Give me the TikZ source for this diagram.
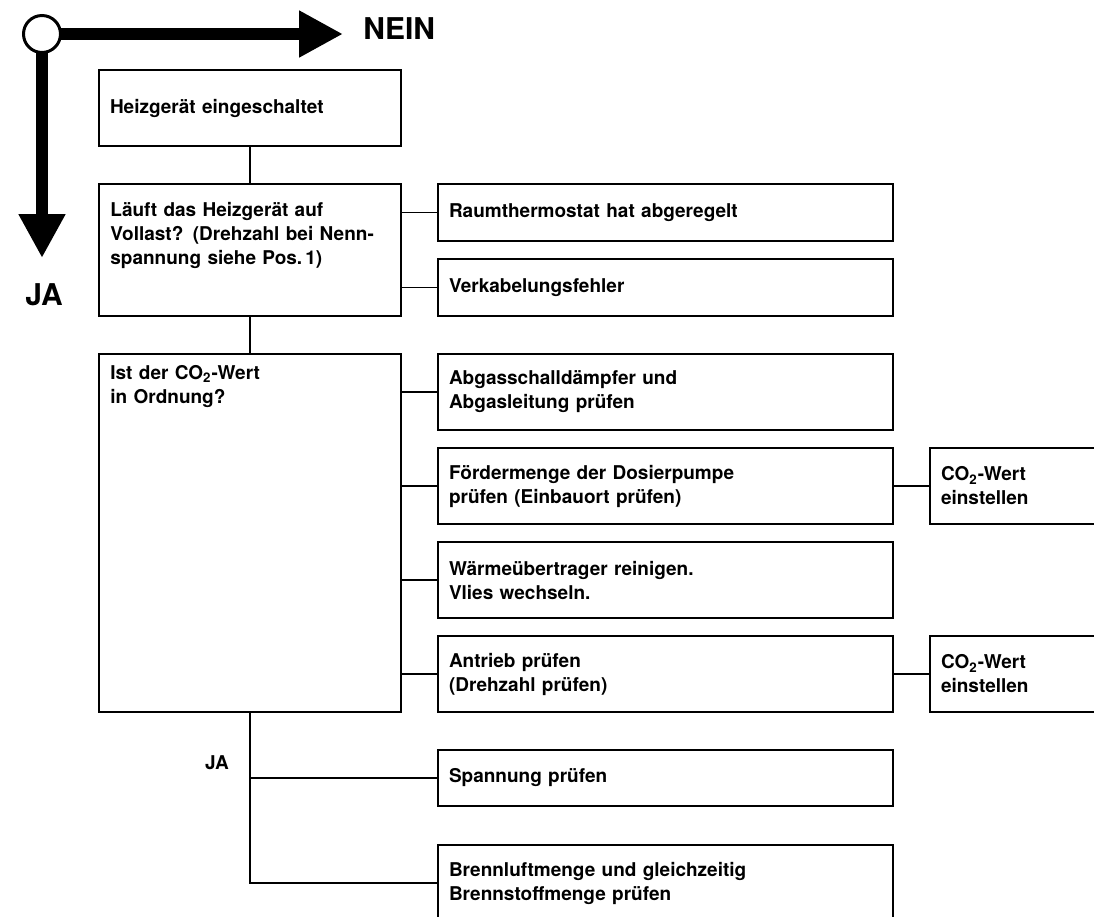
\documentclass[tikz,border=0pt]{standalone}
\usepackage{fontspec}
\setmainfont{TeX Gyre Heros}
\usepackage{tikz}
\usetikzlibrary{arrows.meta,positioning}

\begin{document}
\begin{tikzpicture}[
  x=0.5pt, y=-0.5pt,
  node distance=19pt and 18.5pt,
  font=\fontsize{9.5}{12}\selectfont\bfseries,
  block/.style={rectangle, draw, line width=1.2pt, outer sep=0pt, inner xsep=5.5pt, inner ysep=0pt, text width=140pt, minimum height=38pt, align=left},
  wide/.style={block, text width=216.5pt},
  small/.style={block, text width=79pt},
  toplabel/.style={anchor=north west, inner sep=0pt, text width=140pt, align=left, xshift=5.5pt},
  link/.style={line width=0.8pt},
  ring/.style={circle, draw, line width=1.5pt, fill=white, inner sep=0pt, outer sep=0pt, minimum size=18.5pt},
  bigarrow/.style={-{Triangle[length=22pt, width=22pt]}, line width=6pt},
  big/.style={font=\fontsize{15}{18}\selectfont\bfseries, inner sep=0pt}
]
\useasboundingbox (0,0) rectangle (1094,917);

\node[ring] (start) at (42,34) {};
\coordinate (neintip) at (343,34);
\coordinate (jatip) at (42,258);
\draw[bigarrow] (start.east) -- (neintip);
\draw[bigarrow] (start.south) -- (jatip);
\node[big, anchor=west] (nein) at (363,28.5) {NEIN};
\node[big] (ja) at (44,295) {JA};

\node[block, anchor=north west] (on) at (99,70) {Heizgerät eingeschaltet};
\node[block, below=of on, minimum height=66pt,
  label={[toplabel, yshift=-8.8pt]north west:{Läuft das Heizgerät auf\\ Vollast? (Drehzahl bei Nenn-\\ spannung siehe Pos.\,1)}}] (full) {};
\node[block, below=of full, minimum height=179pt,
  label={[toplabel, yshift=-5.4pt]north west:{Ist der CO\textsubscript{2}-Wert\\ in Ordnung?}}] (co) {};

\node[wide, minimum height=28.5pt, right=18.5pt of full.north east, anchor=north west] (thermo) {Raumthermostat hat abgeregelt};
\node[wide, minimum height=28.5pt, below=9pt of thermo] (wiring) {Verkabelungsfehler};
\node[wide, right=18.5pt of co.north east, anchor=north west] (exhaust) {Abgasschalldämpfer und\\ Abgasleitung prüfen};
\node[wide, below=9pt of exhaust] (pump) {Fördermenge der Dosierpumpe\\ prüfen (Einbauort prüfen)};
\node[wide, below=9pt of pump] (hx) {Wärmeübertrager reinigen.\\ Vlies wechseln.};
\node[wide, below=9pt of hx] (drive) {Antrieb prüfen\\ (Drehzahl prüfen)};
\node[wide, below=of drive, minimum height=28pt] (volt) {Spannung prüfen};
\node[wide, below=19.5pt of volt] (air) {Brennluftmenge und gleichzeitig\\ Brennstoffmenge prüfen};
\node[small, right=of pump] (setpump) {CO\textsubscript{2}-Wert\\ einstellen};
\node[small, right=of drive] (setdrive) {CO\textsubscript{2}-Wert\\ einstellen};
\node[inner sep=0pt] (jaco) at (217,763) {JA};

\draw[link] (on) -- (full);
\draw[link] (full) -- (co);
\draw[link] (full.east |- thermo.west) -- (thermo.west);
\draw[link] (full.east |- wiring.west) -- (wiring.west);
\foreach \n in {exhaust, pump, hx, drive}
  \draw[link] (co.east |- \n.west) -- (\n.west);
\draw[link] (pump) -- (setpump);
\draw[link] (drive) -- (setdrive);
\draw[link] (co.south) |- (volt.west);
\draw[link] (co.south) |- (air.west);
\end{tikzpicture}
\end{document}
